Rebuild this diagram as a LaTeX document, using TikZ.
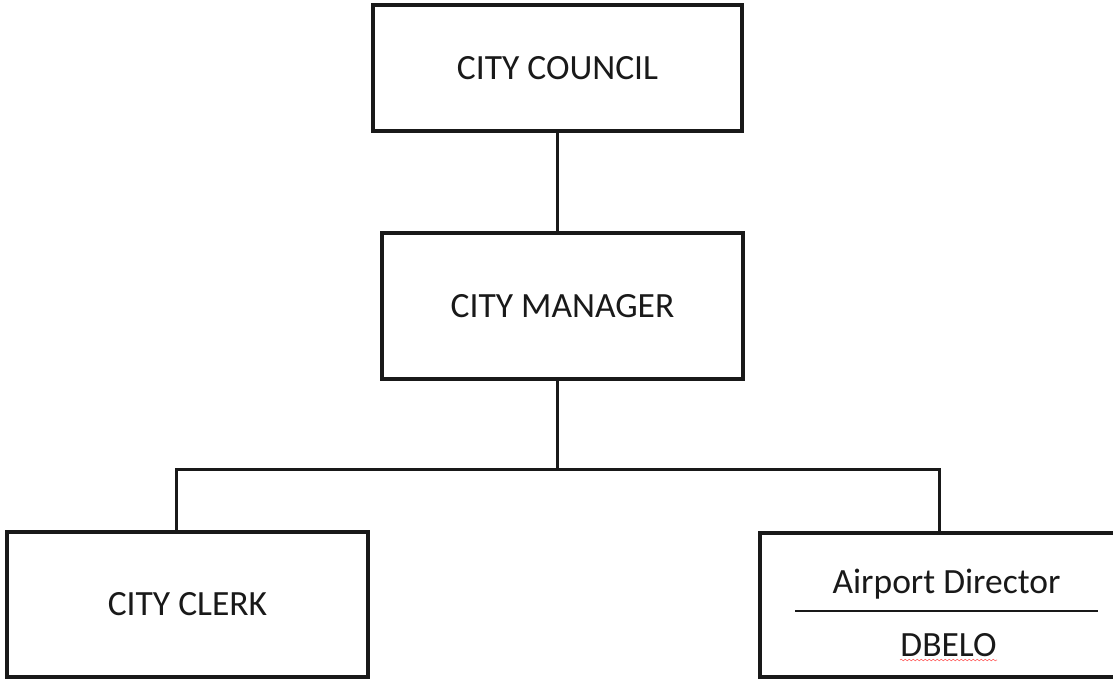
\documentclass[tikz,border=0pt]{standalone}
\usepackage{fontspec}
\setmainfont{Carlito}
\usetikzlibrary{decorations.pathmorphing}
\begin{document}
\begin{tikzpicture}[x=1pt,y=-1pt,
  orgbox/.style={draw=black!90, line width=3.5pt, rectangle, inner sep=0pt,
    font=\fontsize{35.5}{40}\selectfont, text=black!90},
  conn/.style={draw=black!90, line width=3pt}]
\useasboundingbox (0,0) rectangle (1113,679);
\clip (0,0) rectangle (1113,679);
\node[orgbox, minimum width=369pt, minimum height=126pt] (council) at (557.5,68) {CITY COUNCIL};
\node[orgbox, minimum width=361pt, minimum height=146pt] (manager) at (562.5,306) {CITY MANAGER};
\node[orgbox, minimum width=361pt, minimum height=145pt] (clerk) at (187.5,604.5) {CITY CLERK};
\node[orgbox, minimum width=356pt, minimum height=144pt] (airport) at (938,605) {};
\node[font=\fontsize{35.5}{40}\selectfont, text=black!90] (apdir) at (946.5,584) {Airport Director};
\node[font=\fontsize{35.5}{40}\selectfont, text=black!90] (dbelo) at (948.5,645) {DBELO};
\coordinate (sepL) at (795,611);
\coordinate (sepR) at (1098,611);
\draw[line width=1.4pt, black!90] (sepL) -- (sepR);
\coordinate (sqL) at (900,660);
\coordinate (sqR) at (997,660);
\draw[red!60, line width=0.6pt, decorate, decoration={snake, amplitude=0.8pt, segment length=4pt}] (sqL) -- (sqR);
\coordinate (j) at (557.5,469);
\coordinate (cl) at (176,469);
\coordinate (ar) at (939,469);
\draw[conn] (council.south) -- (council.south |- manager.north);
\draw[conn] (council.south |- manager.south) -- (j);
\draw[conn] (clerk.north -| cl) -- (cl) -- (ar) -- (airport.north -| ar);
\end{tikzpicture}
\end{document}
